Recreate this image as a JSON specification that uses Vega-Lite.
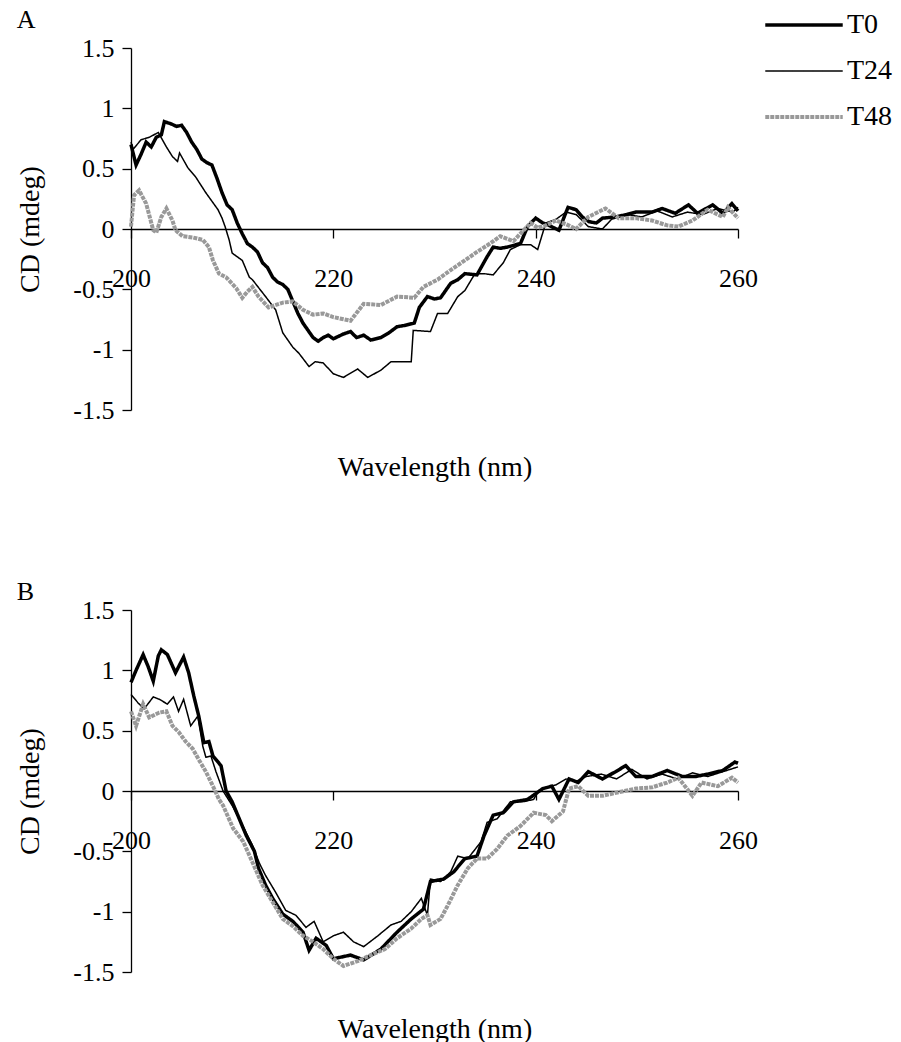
{
  "$schema": "https://vega.github.io/schema/vega-lite/v6.json",
  "background": "white",
  "padding": {"left": 16, "top": 2, "right": 5, "bottom": 5},
  "spacing": 98,
  "config": {
    "font": "Liberation Serif",
    "view": {"stroke": null},
    "axis": {
      "labelFont": "Liberation Serif",
      "titleFont": "Liberation Serif",
      "labelColor": "black",
      "titleColor": "black",
      "domainColor": "black",
      "tickColor": "black",
      "domainWidth": 1.3,
      "tickWidth": 1.3,
      "titleFontWeight": "normal",
      "grid": false,
      "labelFontSize": 26,
      "titleFontSize": 28
    },
    "legend": {
      "orient": "none",
      "legendX": 632,
      "legendY": -46,
      "padding": 0,
      "rowPadding": 0,
      "symbolType": "stroke",
      "symbolSize": 6000,
      "clipHeight": 46,
      "labelOffset": 2,
      "labelFont": "Liberation Serif",
      "labelFontSize": 28,
      "labelColor": "black"
    },
    "title": {"font": "Liberation Serif", "fontSize": 26, "fontWeight": "normal", "color": "black", "anchor": "start", "frame": "bounds", "offset": 2}
  },
  "datasets": {
    "A": [
      {"s":"T0","x":200,"y":0.70},{"s":"T0","x":200.5,"y":0.53},{"s":"T0","x":201,"y":0.62},{"s":"T0","x":201.5,"y":0.72},{"s":"T0","x":202,"y":0.68},{"s":"T0","x":202.5,"y":0.76},{"s":"T0","x":203,"y":0.78},{"s":"T0","x":203.3,"y":0.89},{"s":"T0","x":204,"y":0.87},{"s":"T0","x":204.5,"y":0.85},{"s":"T0","x":205,"y":0.86},{"s":"T0","x":205.5,"y":0.80},{"s":"T0","x":206,"y":0.72},{"s":"T0","x":206.5,"y":0.66},{"s":"T0","x":207,"y":0.58},{"s":"T0","x":207.5,"y":0.55},{"s":"T0","x":208,"y":0.53},{"s":"T0","x":208.5,"y":0.42},{"s":"T0","x":209,"y":0.30},{"s":"T0","x":209.5,"y":0.20},{"s":"T0","x":210,"y":0.16},{"s":"T0","x":210.5,"y":0.05},{"s":"T0","x":211,"y":-0.04},{"s":"T0","x":211.5,"y":-0.12},{"s":"T0","x":212,"y":-0.15},{"s":"T0","x":212.5,"y":-0.19},{"s":"T0","x":213,"y":-0.28},{"s":"T0","x":213.5,"y":-0.32},{"s":"T0","x":214,"y":-0.40},{"s":"T0","x":214.5,"y":-0.44},{"s":"T0","x":215,"y":-0.46},{"s":"T0","x":215.5,"y":-0.50},{"s":"T0","x":216,"y":-0.60},{"s":"T0","x":216.5,"y":-0.70},{"s":"T0","x":217,"y":-0.78},{"s":"T0","x":217.5,"y":-0.84},{"s":"T0","x":218,"y":-0.90},{"s":"T0","x":218.5,"y":-0.93},{"s":"T0","x":219,"y":-0.90},{"s":"T0","x":219.5,"y":-0.88},{"s":"T0","x":220,"y":-0.91},{"s":"T0","x":221,"y":-0.87},{"s":"T0","x":221.7,"y":-0.85},{"s":"T0","x":222.3,"y":-0.90},{"s":"T0","x":223,"y":-0.88},{"s":"T0","x":223.7,"y":-0.92},{"s":"T0","x":224.7,"y":-0.90},{"s":"T0","x":225.5,"y":-0.86},{"s":"T0","x":226.3,"y":-0.81},{"s":"T0","x":227,"y":-0.80},{"s":"T0","x":228,"y":-0.78},{"s":"T0","x":228.5,"y":-0.65},{"s":"T0","x":229.3,"y":-0.56},{"s":"T0","x":230,"y":-0.58},{"s":"T0","x":230.6,"y":-0.57},{"s":"T0","x":231.6,"y":-0.45},{"s":"T0","x":232.3,"y":-0.42},{"s":"T0","x":233,"y":-0.37},{"s":"T0","x":234.2,"y":-0.38},{"s":"T0","x":235.2,"y":-0.23},{"s":"T0","x":235.8,"y":-0.15},{"s":"T0","x":236.5,"y":-0.16},{"s":"T0","x":237.2,"y":-0.15},{"s":"T0","x":238.5,"y":-0.12},{"s":"T0","x":239.2,"y":0.02},{"s":"T0","x":240,"y":0.09},{"s":"T0","x":240.7,"y":0.05},{"s":"T0","x":241.3,"y":0.03},{"s":"T0","x":242.3,"y":-0.01},{"s":"T0","x":243.2,"y":0.18},{"s":"T0","x":244,"y":0.16},{"s":"T0","x":244.6,"y":0.10},{"s":"T0","x":245.3,"y":0.06},{"s":"T0","x":246,"y":0.05},{"s":"T0","x":246.6,"y":0.09},{"s":"T0","x":247.9,"y":0.10},{"s":"T0","x":249,"y":0.12},{"s":"T0","x":249.9,"y":0.14},{"s":"T0","x":251.5,"y":0.14},{"s":"T0","x":252.5,"y":0.17},{"s":"T0","x":253.8,"y":0.13},{"s":"T0","x":255.1,"y":0.20},{"s":"T0","x":256,"y":0.13},{"s":"T0","x":257.5,"y":0.20},{"s":"T0","x":258.5,"y":0.13},{"s":"T0","x":259.4,"y":0.21},{"s":"T0","x":260,"y":0.15},
      {"s":"T24","x":200,"y":0.72},{"s":"T24","x":200.2,"y":0.66},{"s":"T24","x":201,"y":0.74},{"s":"T24","x":201.8,"y":0.76},{"s":"T24","x":202.7,"y":0.80},{"s":"T24","x":203.5,"y":0.68},{"s":"T24","x":204.1,"y":0.60},{"s":"T24","x":204.6,"y":0.56},{"s":"T24","x":204.8,"y":0.63},{"s":"T24","x":205.6,"y":0.51},{"s":"T24","x":206.4,"y":0.43},{"s":"T24","x":207.4,"y":0.30},{"s":"T24","x":208.6,"y":0.16},{"s":"T24","x":209,"y":0.09},{"s":"T24","x":209.3,"y":0.02},{"s":"T24","x":209.7,"y":-0.09},{"s":"T24","x":210,"y":-0.20},{"s":"T24","x":211,"y":-0.26},{"s":"T24","x":211.7,"y":-0.40},{"s":"T24","x":212,"y":-0.42},{"s":"T24","x":213.3,"y":-0.56},{"s":"T24","x":214.3,"y":-0.67},{"s":"T24","x":215,"y":-0.86},{"s":"T24","x":216,"y":-0.98},{"s":"T24","x":216.6,"y":-1.03},{"s":"T24","x":217.6,"y":-1.14},{"s":"T24","x":218.2,"y":-1.10},{"s":"T24","x":219,"y":-1.11},{"s":"T24","x":220,"y":-1.20},{"s":"T24","x":221,"y":-1.23},{"s":"T24","x":222.4,"y":-1.16},{"s":"T24","x":223.4,"y":-1.23},{"s":"T24","x":224.7,"y":-1.17},{"s":"T24","x":225.7,"y":-1.10},{"s":"T24","x":226.7,"y":-1.10},{"s":"T24","x":227.7,"y":-1.10},{"s":"T24","x":227.9,"y":-0.84},{"s":"T24","x":229.6,"y":-0.85},{"s":"T24","x":230.3,"y":-0.70},{"s":"T24","x":231.3,"y":-0.70},{"s":"T24","x":232.3,"y":-0.56},{"s":"T24","x":233,"y":-0.51},{"s":"T24","x":234,"y":-0.37},{"s":"T24","x":234.9,"y":-0.37},{"s":"T24","x":235.8,"y":-0.38},{"s":"T24","x":236.8,"y":-0.28},{"s":"T24","x":237.5,"y":-0.17},{"s":"T24","x":238.5,"y":-0.13},{"s":"T24","x":239.5,"y":-0.13},{"s":"T24","x":240.2,"y":-0.17},{"s":"T24","x":241,"y":0.05},{"s":"T24","x":242,"y":0.08},{"s":"T24","x":243,"y":0.14},{"s":"T24","x":244,"y":0.12},{"s":"T24","x":245.2,"y":0.02},{"s":"T24","x":246.6,"y":0.00},{"s":"T24","x":247.5,"y":0.08},{"s":"T24","x":249,"y":0.12},{"s":"T24","x":250.5,"y":0.10},{"s":"T24","x":252,"y":0.15},{"s":"T24","x":253.5,"y":0.10},{"s":"T24","x":255,"y":0.14},{"s":"T24","x":256.5,"y":0.12},{"s":"T24","x":258,"y":0.17},{"s":"T24","x":259.5,"y":0.14},{"s":"T24","x":260,"y":0.18},
      {"s":"T48","x":200,"y":0.02},{"s":"T48","x":200.3,"y":0.28},{"s":"T48","x":200.8,"y":0.32},{"s":"T48","x":201.5,"y":0.21},{"s":"T48","x":202.2,"y":-0.01},{"s":"T48","x":202.5,"y":-0.03},{"s":"T48","x":203,"y":0.10},{"s":"T48","x":203.5,"y":0.17},{"s":"T48","x":204.1,"y":0.07},{"s":"T48","x":204.4,"y":-0.01},{"s":"T48","x":205.1,"y":-0.06},{"s":"T48","x":206.1,"y":-0.07},{"s":"T48","x":207.1,"y":-0.09},{"s":"T48","x":207.7,"y":-0.15},{"s":"T48","x":208.1,"y":-0.26},{"s":"T48","x":208.7,"y":-0.37},{"s":"T48","x":209.4,"y":-0.40},{"s":"T48","x":210.4,"y":-0.49},{"s":"T48","x":211,"y":-0.57},{"s":"T48","x":211.5,"y":-0.52},{"s":"T48","x":212,"y":-0.48},{"s":"T48","x":212.6,"y":-0.56},{"s":"T48","x":213.6,"y":-0.65},{"s":"T48","x":215,"y":-0.61},{"s":"T48","x":216,"y":-0.60},{"s":"T48","x":217,"y":-0.67},{"s":"T48","x":218,"y":-0.71},{"s":"T48","x":219,"y":-0.70},{"s":"T48","x":220,"y":-0.73},{"s":"T48","x":221.7,"y":-0.76},{"s":"T48","x":223,"y":-0.62},{"s":"T48","x":224.7,"y":-0.63},{"s":"T48","x":226.3,"y":-0.56},{"s":"T48","x":228,"y":-0.57},{"s":"T48","x":228.9,"y":-0.48},{"s":"T48","x":230.3,"y":-0.42},{"s":"T48","x":231.6,"y":-0.34},{"s":"T48","x":233,"y":-0.26},{"s":"T48","x":234.2,"y":-0.19},{"s":"T48","x":235.5,"y":-0.12},{"s":"T48","x":236.5,"y":-0.06},{"s":"T48","x":237.8,"y":-0.10},{"s":"T48","x":239.5,"y":0.05},{"s":"T48","x":240.2,"y":0.01},{"s":"T48","x":241,"y":0.03},{"s":"T48","x":242,"y":0.07},{"s":"T48","x":243,"y":0.04},{"s":"T48","x":244,"y":0.00},{"s":"T48","x":245.2,"y":0.10},{"s":"T48","x":246.9,"y":0.17},{"s":"T48","x":248.2,"y":0.09},{"s":"T48","x":249.9,"y":0.09},{"s":"T48","x":251.5,"y":0.07},{"s":"T48","x":253,"y":0.03},{"s":"T48","x":254.1,"y":0.02},{"s":"T48","x":255.5,"y":0.07},{"s":"T48","x":257,"y":0.16},{"s":"T48","x":258.5,"y":0.10},{"s":"T48","x":259,"y":0.18},{"s":"T48","x":260,"y":0.09}
    ],
    "B": [
      {"s":"T0","x":200,"y":0.90},{"s":"T0","x":200.5,"y":1.00},{"s":"T0","x":201.2,"y":1.13},{"s":"T0","x":201.7,"y":1.03},{"s":"T0","x":202.2,"y":0.91},{"s":"T0","x":202.7,"y":1.12},{"s":"T0","x":203,"y":1.17},{"s":"T0","x":203.6,"y":1.13},{"s":"T0","x":204.4,"y":0.98},{"s":"T0","x":205.2,"y":1.11},{"s":"T0","x":205.7,"y":0.98},{"s":"T0","x":206.2,"y":0.79},{"s":"T0","x":206.7,"y":0.62},{"s":"T0","x":207.2,"y":0.40},{"s":"T0","x":207.7,"y":0.41},{"s":"T0","x":208.1,"y":0.29},{"s":"T0","x":208.9,"y":0.21},{"s":"T0","x":209.4,"y":0.00},{"s":"T0","x":210,"y":-0.09},{"s":"T0","x":210.7,"y":-0.23},{"s":"T0","x":211.4,"y":-0.37},{"s":"T0","x":212.2,"y":-0.50},{"s":"T0","x":212.6,"y":-0.64},{"s":"T0","x":213.3,"y":-0.78},{"s":"T0","x":214,"y":-0.89},{"s":"T0","x":215,"y":-1.02},{"s":"T0","x":216,"y":-1.08},{"s":"T0","x":217,"y":-1.17},{"s":"T0","x":217.6,"y":-1.32},{"s":"T0","x":218.3,"y":-1.22},{"s":"T0","x":219.3,"y":-1.28},{"s":"T0","x":220,"y":-1.39},{"s":"T0","x":221.7,"y":-1.36},{"s":"T0","x":223,"y":-1.40},{"s":"T0","x":224.7,"y":-1.31},{"s":"T0","x":226.3,"y":-1.17},{"s":"T0","x":227.7,"y":-1.06},{"s":"T0","x":228.9,"y":-0.98},{"s":"T0","x":229.6,"y":-0.75},{"s":"T0","x":230.9,"y":-0.73},{"s":"T0","x":231.9,"y":-0.67},{"s":"T0","x":233,"y":-0.56},{"s":"T0","x":234.2,"y":-0.54},{"s":"T0","x":234.9,"y":-0.37},{"s":"T0","x":235.8,"y":-0.20},{"s":"T0","x":236.8,"y":-0.18},{"s":"T0","x":237.8,"y":-0.09},{"s":"T0","x":239.2,"y":-0.07},{"s":"T0","x":240.2,"y":-0.01},{"s":"T0","x":240.7,"y":0.02},{"s":"T0","x":241.6,"y":0.04},{"s":"T0","x":242.3,"y":-0.07},{"s":"T0","x":243.3,"y":0.10},{"s":"T0","x":244.2,"y":0.07},{"s":"T0","x":245.2,"y":0.16},{"s":"T0","x":246.6,"y":0.10},{"s":"T0","x":247.9,"y":0.16},{"s":"T0","x":248.9,"y":0.21},{"s":"T0","x":249.9,"y":0.12},{"s":"T0","x":251.5,"y":0.12},{"s":"T0","x":253,"y":0.17},{"s":"T0","x":254.5,"y":0.12},{"s":"T0","x":255.8,"y":0.12},{"s":"T0","x":257,"y":0.14},{"s":"T0","x":258.5,"y":0.17},{"s":"T0","x":259.7,"y":0.24},{"s":"T0","x":260,"y":0.23},
      {"s":"T24","x":200,"y":0.80},{"s":"T24","x":200.7,"y":0.73},{"s":"T24","x":201.3,"y":0.68},{"s":"T24","x":202.2,"y":0.78},{"s":"T24","x":202.8,"y":0.76},{"s":"T24","x":203.6,"y":0.72},{"s":"T24","x":204.2,"y":0.78},{"s":"T24","x":204.7,"y":0.66},{"s":"T24","x":205.2,"y":0.76},{"s":"T24","x":205.9,"y":0.54},{"s":"T24","x":206.6,"y":0.62},{"s":"T24","x":207.1,"y":0.37},{"s":"T24","x":207.4,"y":0.28},{"s":"T24","x":207.9,"y":0.29},{"s":"T24","x":208.4,"y":0.16},{"s":"T24","x":209.1,"y":0.00},{"s":"T24","x":210,"y":-0.12},{"s":"T24","x":211,"y":-0.28},{"s":"T24","x":212,"y":-0.45},{"s":"T24","x":212.7,"y":-0.60},{"s":"T24","x":213.3,"y":-0.70},{"s":"T24","x":214.3,"y":-0.84},{"s":"T24","x":215.3,"y":-0.99},{"s":"T24","x":216.3,"y":-1.03},{"s":"T24","x":217.3,"y":-1.13},{"s":"T24","x":218.1,"y":-1.08},{"s":"T24","x":219,"y":-1.25},{"s":"T24","x":220,"y":-1.20},{"s":"T24","x":221,"y":-1.17},{"s":"T24","x":222,"y":-1.25},{"s":"T24","x":223,"y":-1.29},{"s":"T24","x":224.4,"y":-1.20},{"s":"T24","x":225.7,"y":-1.11},{"s":"T24","x":226.7,"y":-1.08},{"s":"T24","x":227.7,"y":-1.00},{"s":"T24","x":228.7,"y":-0.89},{"s":"T24","x":229.3,"y":-1.03},{"s":"T24","x":229.6,"y":-0.73},{"s":"T24","x":230.6,"y":-0.75},{"s":"T24","x":231.6,"y":-0.67},{"s":"T24","x":232.3,"y":-0.54},{"s":"T24","x":233.3,"y":-0.56},{"s":"T24","x":234.6,"y":-0.42},{"s":"T24","x":235.2,"y":-0.26},{"s":"T24","x":236.2,"y":-0.23},{"s":"T24","x":237.5,"y":-0.09},{"s":"T24","x":238.7,"y":-0.09},{"s":"T24","x":239.8,"y":-0.07},{"s":"T24","x":240.2,"y":-0.01},{"s":"T24","x":241,"y":0.03},{"s":"T24","x":242,"y":0.05},{"s":"T24","x":243,"y":0.10},{"s":"T24","x":244,"y":0.08},{"s":"T24","x":245,"y":0.12},{"s":"T24","x":246.5,"y":0.14},{"s":"T24","x":248,"y":0.10},{"s":"T24","x":249.5,"y":0.18},{"s":"T24","x":251,"y":0.10},{"s":"T24","x":252.5,"y":0.14},{"s":"T24","x":254,"y":0.10},{"s":"T24","x":255.5,"y":0.15},{"s":"T24","x":257,"y":0.12},{"s":"T24","x":258.5,"y":0.16},{"s":"T24","x":260,"y":0.20},
      {"s":"T48","x":200,"y":0.66},{"s":"T48","x":200.5,"y":0.54},{"s":"T48","x":201.2,"y":0.72},{"s":"T48","x":201.8,"y":0.61},{"s":"T48","x":202.8,"y":0.65},{"s":"T48","x":203.5,"y":0.66},{"s":"T48","x":204.1,"y":0.54},{"s":"T48","x":204.7,"y":0.49},{"s":"T48","x":205.4,"y":0.41},{"s":"T48","x":206.1,"y":0.35},{"s":"T48","x":206.7,"y":0.26},{"s":"T48","x":207.4,"y":0.16},{"s":"T48","x":208.1,"y":0.04},{"s":"T48","x":208.7,"y":-0.07},{"s":"T48","x":209.1,"y":-0.12},{"s":"T48","x":210.1,"y":-0.31},{"s":"T48","x":211.1,"y":-0.42},{"s":"T48","x":212,"y":-0.59},{"s":"T48","x":213,"y":-0.78},{"s":"T48","x":214,"y":-0.92},{"s":"T48","x":215,"y":-1.06},{"s":"T48","x":216,"y":-1.12},{"s":"T48","x":217,"y":-1.20},{"s":"T48","x":218,"y":-1.25},{"s":"T48","x":219,"y":-1.31},{"s":"T48","x":220,"y":-1.39},{"s":"T48","x":221,"y":-1.45},{"s":"T48","x":222.4,"y":-1.41},{"s":"T48","x":223.7,"y":-1.36},{"s":"T48","x":225.1,"y":-1.31},{"s":"T48","x":226.3,"y":-1.22},{"s":"T48","x":227.7,"y":-1.14},{"s":"T48","x":228.7,"y":-1.06},{"s":"T48","x":229.3,"y":-1.03},{"s":"T48","x":229.6,"y":-1.11},{"s":"T48","x":230.6,"y":-1.06},{"s":"T48","x":231.3,"y":-0.95},{"s":"T48","x":232.3,"y":-0.78},{"s":"T48","x":233.3,"y":-0.64},{"s":"T48","x":234.2,"y":-0.56},{"s":"T48","x":235.2,"y":-0.56},{"s":"T48","x":236.2,"y":-0.48},{"s":"T48","x":237.2,"y":-0.37},{"s":"T48","x":238.5,"y":-0.29},{"s":"T48","x":239.8,"y":-0.18},{"s":"T48","x":241,"y":-0.20},{"s":"T48","x":241.6,"y":-0.25},{"s":"T48","x":242.7,"y":-0.17},{"s":"T48","x":243.3,"y":0.02},{"s":"T48","x":244.2,"y":0.04},{"s":"T48","x":245.2,"y":-0.04},{"s":"T48","x":246.6,"y":-0.04},{"s":"T48","x":248.2,"y":-0.01},{"s":"T48","x":249.9,"y":0.02},{"s":"T48","x":251.5,"y":0.03},{"s":"T48","x":253,"y":0.07},{"s":"T48","x":254.1,"y":0.11},{"s":"T48","x":255.5,"y":-0.04},{"s":"T48","x":256.4,"y":0.07},{"s":"T48","x":258,"y":0.04},{"s":"T48","x":259.4,"y":0.11},{"s":"T48","x":260,"y":0.07}
    ]
  },
  "vconcat": [
    {
      "title": {"text": "A"},
      "width": 607,
      "height": 362,
      "data": {"name": "A"},
      "mark": {"type": "line"},
      "encoding": {
        "x": {"field": "x", "type": "quantitative", "scale": {"domain": [200, 260], "nice": false, "zero": false},
          "axis": {"values": [200, 220, 240, 260], "offset": -181, "labelFlush": false, "tickSize": 9, "labelPadding": 27, "title": "Wavelength (nm)", "titleBaseline": "alphabetic", "titleY": 246}},
        "y": {"field": "y", "type": "quantitative", "scale": {"domain": [-1.5, 1.5], "nice": false, "zero": false},
          "axis": {"values": [-1.5, -1, -0.5, 0, 0.5, 1, 1.5], "labelExpr": "'' + datum.value", "tickSize": 9, "labelPadding": 8, "title": "CD (mdeg)", "titlePadding": 28}},
        "color": {"field": "s", "type": "nominal", "scale": {"domain": ["T0", "T24", "T48"], "range": ["#000000", "#000000", "#999999"]}, "legend": {"title": null}},
        "strokeWidth": {"field": "s", "type": "nominal", "scale": {"type": "ordinal", "domain": ["T0", "T24", "T48"], "range": [3.5, 1.5, 4]}, "legend": {"title": null}},
        "strokeDash": {"field": "s", "type": "nominal", "scale": {"domain": ["T0", "T24", "T48"], "range": [[1, 0], [1, 0], [4, 1]]}, "legend": {"title": null}}
      }
    },
    {
      "title": {"text": "B", "offset": -8},
      "width": 607,
      "height": 362,
      "data": {"name": "B"},
      "mark": {"type": "line"},
      "encoding": {
        "x": {"field": "x", "type": "quantitative", "scale": {"domain": [200, 260], "nice": false, "zero": false},
          "axis": {"values": [200, 220, 240, 260], "offset": -181, "labelFlush": false, "tickSize": 9, "labelPadding": 27, "title": "Wavelength (nm)", "titleBaseline": "alphabetic", "titleY": 246}},
        "y": {"field": "y", "type": "quantitative", "scale": {"domain": [-1.5, 1.5], "nice": false, "zero": false},
          "axis": {"values": [-1.5, -1, -0.5, 0, 0.5, 1, 1.5], "labelExpr": "'' + datum.value", "tickSize": 9, "labelPadding": 8, "title": "CD (mdeg)", "titlePadding": 28}},
        "color": {"field": "s", "type": "nominal", "scale": {"domain": ["T0", "T24", "T48"], "range": ["#000000", "#000000", "#999999"]}, "legend": {"title": null}},
        "strokeWidth": {"field": "s", "type": "nominal", "scale": {"type": "ordinal", "domain": ["T0", "T24", "T48"], "range": [3.5, 1.5, 4]}, "legend": {"title": null}},
        "strokeDash": {"field": "s", "type": "nominal", "scale": {"domain": ["T0", "T24", "T48"], "range": [[1, 0], [1, 0], [4, 1]]}, "legend": {"title": null}}
      }
    }
  ]
}
